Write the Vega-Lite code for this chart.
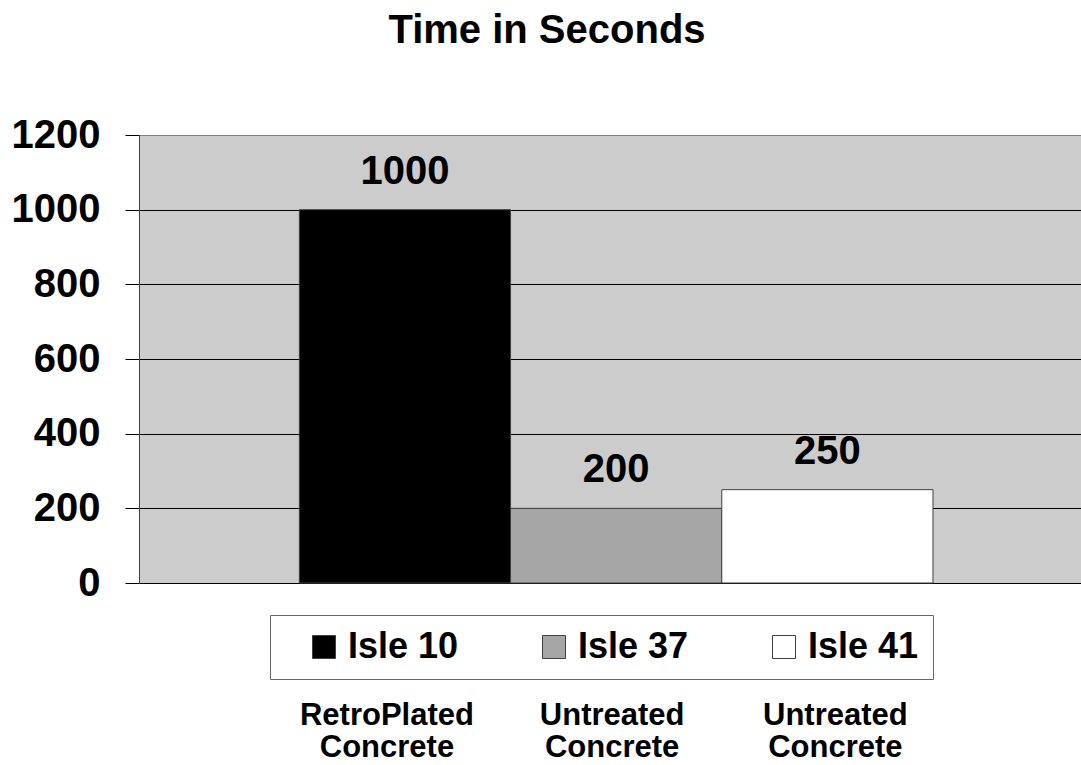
{
  "$schema": "https://vega.github.io/schema/vega-lite/v6.json",
  "width": 942,
  "height": 448,
  "autosize": "none",
  "padding": {"left": 139, "top": 135, "right": 0, "bottom": 182},
  "background": "white",
  "title": {
    "text": "Time in Seconds",
    "fontSize": 40,
    "fontWeight": "bold",
    "font": "Liberation Sans",
    "color": "black",
    "anchor": "middle",
    "offset": 64,
    "dx": -63
  },
  "data": {
    "values": [
      {"isle": "Isle 10", "category": "RetroPlated Concrete", "seconds": 1000},
      {"isle": "Isle 37", "category": "Untreated Concrete", "seconds": 200},
      {"isle": "Isle 41", "category": "Untreated Concrete", "seconds": 250}
    ]
  },
  "encoding": {
    "x": {
      "field": "isle",
      "type": "nominal",
      "sort": ["Isle 10", "Isle 37", "Isle 41"],
      "scale": {"paddingInner": 0, "paddingOuter": 0.73, "align": 0.52},
      "axis": {
        "title": null,
        "ticks": false,
        "domain": false,
        "labelAngle": 0,
        "labelPadding": 117,
        "labelFontSize": 31,
        "labelFontWeight": "bold",
        "labelColor": "black",
        "labelLineHeight": 32,
        "labelBaseline": "top",
        "labelOffset": {"condition": [{"test": "datum.value == 'Isle 10'", "value": -18}, {"test": "datum.value == 'Isle 41'", "value": 8}], "value": -4},
        "labelExpr": "datum.value == 'Isle 10' ? ['RetroPlated', 'Concrete'] : ['Untreated', 'Concrete']"
      }
    },
    "y": {
      "field": "seconds",
      "type": "quantitative",
      "scale": {"domain": [0, 1200], "nice": false},
      "axis": {
        "title": null,
        "format": "d",
        "values": [0, 200, 400, 600, 800, 1000, 1200],
        "tickSize": 14,
        "tickColor": "black",
        "domainColor": "#404040",
        "labelPadding": 25,
        "labelFontSize": 40,
        "labelFontWeight": "bold",
        "labelColor": "black",
        "grid": true,
        "gridColor": {"condition": {"test": "datum.value == 1200", "value": "#808080"}, "value": "black"},
        "gridWidth": 1,
        "gridOpacity": 1
      }
    }
  },
  "layer": [
    {
      "mark": {"type": "bar", "stroke": "#404040", "strokeWidth": 1},
      "encoding": {
        "color": {
          "field": "isle",
          "type": "nominal",
          "scale": {"domain": ["Isle 10", "Isle 37", "Isle 41"], "range": ["#000000", "#a6a6a6", "#ffffff"]},
          "legend": {
            "title": null,
            "orient": "none",
            "legendX": 131,
            "legendY": 480,
            "direction": "horizontal",
            "columns": 3,
            "symbolType": "square",
            "symbolSize": 529,
            "symbolStrokeColor": "#404040",
            "symbolStrokeWidth": 1,
            "symbolOpacity": 1,
            "labelFontSize": 36,
            "labelFontWeight": "bold",
            "labelColor": "black",
            "labelOffset": 6,
            "labelLimit": 300,
            "columnPadding": 55,
            "padding": 14,
            "symbolOffset": 22,
            "strokeColor": "#666666",
            "fillColor": "white"
          }
        }
      }
    },
    {
      "mark": {"type": "text", "dy": -26, "baseline": "alphabetic", "fontSize": 40, "fontWeight": "bold", "color": "black"},
      "encoding": {"text": {"field": "seconds", "type": "quantitative"}}
    }
  ],
  "config": {
    "view": {"fill": "#cccccc", "stroke": "#808080"},
    "font": "Liberation Sans"
  }
}
